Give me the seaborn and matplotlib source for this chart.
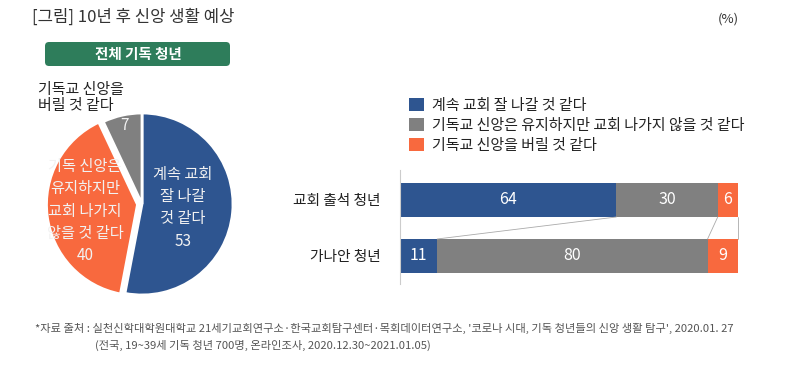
import numpy as np
import matplotlib
matplotlib.use("Agg")
import matplotlib.pyplot as plt
from matplotlib.patches import FancyBboxPatch, Patch
import seaborn as sns

sns.set_style("white")
plt.rcParams["font.family"] = ["Noto Sans CJK KR", "DejaVu Sans"]

# ---- data ----
answers = ["계속 교회 잘 나갈 것 같다",
           "기독교 신앙은 유지하지만 교회 나가지 않을 것 같다",
           "기독교 신앙을 버릴 것 같다"]
colors = ["#2E5590", "#808080", "#F8693E"]

# pie: all young Christians
pie_values = [53, 40, 7]
pie_colors = ["#2E5590", "#F8693E", "#808080"]
pie_texts = ["계속 교회\n잘 나갈\n것 같다\n53",
             "기독 신앙은\n유지하지만\n교회 나가지\n않을 것 같다\n40",
             "7"]

# stacked bars: church attenders vs. "Canaan" (unchurched) youth
groups = ["교회 출석 청년", "가나안 청년"]
stay = [64, 11]
keep_faith = [30, 80]
leave = [6, 9]

W, H = 800, 366
fig = plt.figure(figsize=(W / 100, H / 100), dpi=100)


def fx(x):
    return x / W


def fy(y):
    return 1 - y / H


# ---- header ----
fig.text(fx(32), fy(17), "[그림] 10년 후 신앙 생활 예상", fontsize=12,
         color="#333333", va="center", ha="left")
fig.text(fx(728), fy(19), "(%)", fontsize=9.5, color="#333333",
         va="center", ha="center")

box = FancyBboxPatch((0.45, (H - 66) / 100), 1.85, 0.24,
                     boxstyle="round,pad=0,rounding_size=0.04",
                     transform=fig.dpi_scale_trans, facecolor="#2E7D5B",
                     edgecolor="none")
fig.patches.append(box)
fig.text(fx(138), fy(54), "전체 기독 청년", fontsize=10.5, fontweight="bold",
         color="white", ha="center", va="center")

# ---- pie ----
cx, cy, r = 142, 204, 91
ax_pie = fig.add_axes([fx(cx - r), fy(cy + r), 2 * r / W, 2 * r / H])
wedges, _ = ax_pie.pie(pie_values, colors=pie_colors, startangle=90,
                       counterclock=False, explode=[0, 0.05, 0.0],
                       wedgeprops=dict(edgecolor="white", linewidth=2))
ax_pie.set_xlim(-1, 1)
ax_pie.set_ylim(-1, 1)
ax_pie.set_aspect("equal")
for w in wedges:
    w.set_clip_on(False)

label_r = [0.45, 0.58, 0.88]
for w, txt, rr in zip(wedges, pie_texts, label_r):
    ang = np.deg2rad((w.theta1 + w.theta2) / 2)
    ox, oy = w.center
    ax_pie.text(ox + rr * np.cos(ang), oy + rr * np.sin(ang), txt,
                ha="center", va="center", fontsize=11, color="#F2F2F2",
                linespacing=1.4)

fig.text(fx(38), fy(98), "기독교 신앙을\n버릴 것 같다", fontsize=10.8,
         color="#222222", ha="left", va="center", linespacing=1.25)

# ---- stacked bars ----
ax = fig.add_axes([fx(400), fy(284), (738 - 400) / W, (284 - 170) / H])
cum1 = [a + b for a, b in zip(stay, keep_faith)]
cum2 = [a + b + c for a, b, c in zip(stay, keep_faith, leave)]
bar_w = 34 / 56
sns.barplot(x=cum2, y=groups, color=colors[2], width=bar_w, linewidth=0,
            saturation=1, orient="h", ax=ax)
sns.barplot(x=cum1, y=groups, color=colors[1], width=bar_w, linewidth=0,
            saturation=1, orient="h", ax=ax)
sns.barplot(x=stay, y=groups, color=colors[0], width=bar_w, linewidth=0,
            saturation=1, orient="h", ax=ax)
ax.set_xlim(0, 100)
ax.set_ylim(1 + 28 / 56, -30 / 56)
ax.set_xlabel("")
ax.set_ylabel("")
ax.set_xticks([])
ax.tick_params(axis="y", length=0, pad=14, labelsize=10.6, labelcolor="#222222")
for s in ["top", "right", "bottom"]:
    ax.spines[s].set_visible(False)
ax.spines["left"].set_color("#CCCCCC")
ax.spines["left"].set_linewidth(0.8)

# value labels
for i in range(len(groups)):
    starts = [0, stay[i], cum1[i]]
    vals = [stay[i], keep_faith[i], leave[i]]
    for s0, v in zip(starts, vals):
        ax.text(s0 + v / 2, i, str(v), ha="center", va="center",
                fontsize=11.5, color="white")

# connector lines between the two bars
half = bar_w / 2
for top_v, bot_v in zip([stay[0], cum1[0], cum2[0]],
                        [stay[1], cum1[1], cum2[1]]):
    ax.plot([top_v, bot_v], [0 + half, 1 - half], color="#AAAAAA",
            linewidth=0.6, clip_on=False)

# legend
handles = [Patch(facecolor=c, edgecolor="none", label=l)
           for c, l in zip(colors, answers)]
fig.legend(handles=handles, loc="upper left",
           bbox_to_anchor=(fx(409), fy(98)), frameon=False, fontsize=10.8,
           handlelength=1.0, handleheight=0.95, handletextpad=0.5,
           labelspacing=0.37, borderaxespad=0, borderpad=0,
           labelcolor="#222222")

# ---- footnote ----
fig.text(fx(35), fy(328),
         "*자료 출처 : 실천신학대학원대학교 21세기교회연구소·한국교회탐구센터·목회데이터연구소, "
         "'코로나 시대, 기독 청년들의 신앙 생활 탐구', 2020.01. 27",
         fontsize=8.1, color="#555555", ha="left", va="center")
fig.text(fx(95), fy(345),
         "(전국, 19~39세 기독 청년 700명, 온라인조사, 2020.12.30~2021.01.05)",
         fontsize=8.1, color="#555555", ha="left", va="center")

fig.savefig("out.png", dpi=100)
